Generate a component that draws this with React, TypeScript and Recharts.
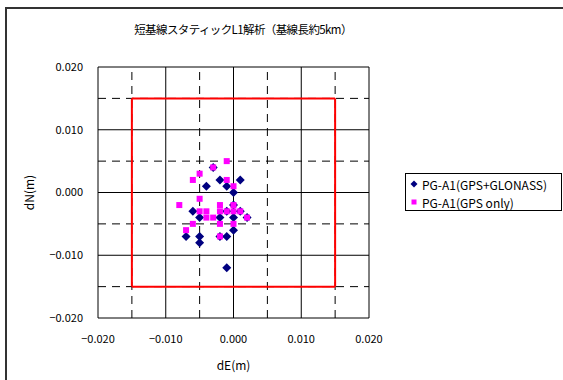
import React from "react";
import {
  ScatterChart,
  Scatter,
  XAxis,
  YAxis,
  ReferenceLine,
  Label,
} from "recharts";

const titleText = "短基線スタティックL1解析（基線長約5km）";
const seriesNames = ["PG-A1(GPS+GLONASS)", "PG-A1(GPS only)"];

// PG-A1 (GPS+GLONASS)
const glonassDE = [
  -0.004, -0.002, -0.001, 0.001, 0.0, 0.0, -0.003, -0.006, -0.001, 0.001, -0.005,
  -0.002, 0.0, 0.002, 0.0, -0.007, -0.005, -0.002, -0.001, -0.005, -0.001,
];
const glonassDN = [
  0.001, 0.002, 0.001, 0.002, 0.0, -0.002, 0.004, -0.003, -0.003, -0.003, -0.004,
  -0.004, -0.004, -0.004, -0.006, -0.007, -0.007, -0.007, -0.007, -0.008, -0.012,
];

// PG-A1 (GPS only)
const gpsOnlyDE = [
  -0.001, -0.003, -0.005, -0.006, -0.001, 0.0, -0.005, -0.008, -0.002, 0.0, -0.005,
  -0.004, -0.002, -0.001, 0.0, 0.001, -0.004, -0.003, 0.002, -0.006, -0.002, 0.0,
  -0.007, -0.002,
];
const gpsOnlyDN = [
  0.005, 0.004, 0.003, 0.002, 0.002, 0.001, -0.001, -0.002, -0.002, -0.002, -0.003,
  -0.003, -0.003, -0.003, -0.003, -0.003, -0.004, -0.004, -0.004, -0.005, -0.005,
  -0.005, -0.006, -0.007,
];

const axisTicks = [-0.02, -0.01, 0.0, 0.01, 0.02];
const minorLines = [-0.015, -0.005, 0.005, 0.015];
const targetBox = [-0.015, 0.015];

const glonassData = glonassDE.map((e, i) => ({ dE: e, dN: glonassDN[i] }));
const gpsOnlyData = gpsOnlyDE.map((e, i) => ({ dE: e, dN: gpsOnlyDN[i] }));

const [b0, b1] = targetBox;
const boxSegments = [
  [{ x: b0, y: b0 }, { x: b1, y: b0 }],
  [{ x: b1, y: b0 }, { x: b1, y: b1 }],
  [{ x: b1, y: b1 }, { x: b0, y: b1 }],
  [{ x: b0, y: b1 }, { x: b0, y: b0 }],
];

const NAVY = "#000080";
const MAGENTA = "#FF00FF";
const FONT = "'Noto Sans CJK JP', 'Liberation Sans', sans-serif";

const fmt = (v: number) => (v < 0 ? "−" : "") + Math.abs(v).toFixed(3);

const Diamond = (props: any) => {
  const { cx, cy } = props;
  const r = 4.5;
  return (
    <polygon
      points={`${cx},${cy - r} ${cx + r},${cy} ${cx},${cy + r} ${cx - r},${cy}`}
      fill={NAVY}
    />
  );
};

const Square = (props: any) => {
  const { cx, cy } = props;
  return <rect x={cx - 3} y={cy - 3} width={6} height={6} fill={MAGENTA} />;
};

const LegendBox = () => (
  <div
    style={{
      position: "absolute",
      left: 405,
      top: 173,
      width: 157,
      height: 38,
      border: "1px solid #000",
      background: "#fff",
      fontFamily: FONT,
      fontSize: 12,
      color: "#000",
      boxSizing: "border-box",
    }}
  >
    <div style={{ display: "flex", alignItems: "center", height: 18, marginTop: 1, whiteSpace: "nowrap" }}>
      <svg width={10} height={10} style={{ marginLeft: 3, marginRight: 3 }}>
        <polygon points="5,1.5 8.5,5 5,8.5 1.5,5" fill={NAVY} />
      </svg>
      <span>{seriesNames[0]}</span>
    </div>
    <div style={{ display: "flex", alignItems: "center", height: 18, whiteSpace: "nowrap" }}>
      <svg width={10} height={10} style={{ marginLeft: 3, marginRight: 3 }}>
        <rect x={2.5} y={2.5} width={5} height={5} fill={MAGENTA} />
      </svg>
      <span>{seriesNames[1]}</span>
    </div>
  </div>
);

export default function App() {
  return (
    <div
      style={{
        position: "absolute",
        left: 0,
        top: 0,
        width: 563,
        height: 380,
        overflow: "hidden",
        background: "#fff",
      }}
    >
      <div
        style={{
          position: "absolute",
          left: 5,
          top: 7,
          width: 700,
          height: 500,
          border: "2px solid #333",
        }}
      />
      <div
        style={{
          position: "absolute",
          left: 0,
          top: 21,
          width: 486,
          textAlign: "center",
          fontFamily: FONT,
          fontSize: 11.5,
          letterSpacing: -0.6,
          color: "#000",
        }}
      >
        {titleText}
      </div>
      <div style={{ position: "absolute", left: 0, top: 0 }}>
        <ScatterChart
          width={563}
          height={380}
          margin={{ top: 67, right: 194, bottom: 12, left: 10 }}
        >
          <XAxis
            type="number"
            dataKey="dE"
            domain={[-0.02, 0.02]}
            ticks={axisTicks}
            tickFormatter={fmt}
            axisLine={false}
            tickLine={false}
            tickSize={0}
            tickMargin={17}
            height={50}
            tick={{ fill: "#000", fontSize: 11, fontFamily: FONT }}
            allowDataOverflow
          >
            <Label
              value="dE(m)"
              position="insideBottom"
              offset={-2}
              style={{ fill: "#000", fontSize: 12, fontFamily: FONT }}
            />
          </XAxis>
          <YAxis
            type="number"
            dataKey="dN"
            domain={[-0.02, 0.02]}
            ticks={axisTicks}
            tickFormatter={fmt}
            axisLine={false}
            tickLine={false}
            tickSize={0}
            tickMargin={15}
            width={88}
            tick={{ fill: "#000", fontSize: 11, fontFamily: FONT }}
            allowDataOverflow
          >
            <Label
              value="dN(m)"
              angle={-90}
              position="insideLeft"
              offset={20}
              style={{ fill: "#000", fontSize: 12, fontFamily: FONT, textAnchor: "middle" }}
            />
          </YAxis>
          {minorLines.map((v) => (
            <ReferenceLine
              key={"mx" + v}
              x={v}
              stroke="#000"
              strokeDasharray="8 6"
              ifOverflow="visible"
            />
          ))}
          {minorLines.map((v) => (
            <ReferenceLine
              key={"my" + v}
              y={v}
              stroke="#000"
              strokeDasharray="8 6"
              ifOverflow="visible"
            />
          ))}
          {axisTicks.map((v) => (
            <ReferenceLine key={"Mx" + v} x={v} stroke="#000" ifOverflow="visible" />
          ))}
          {axisTicks.map((v) => (
            <ReferenceLine key={"My" + v} y={v} stroke="#000" ifOverflow="visible" />
          ))}
          {boxSegments.map((seg, i) => (
            <ReferenceLine
              key={"box" + i}
              segment={seg}
              stroke="#FF0000"
              strokeWidth={2}
              ifOverflow="visible"
            />
          ))}
          <Scatter
            name={seriesNames[0]}
            data={glonassData}
            shape={Diamond}
            isAnimationActive={false}
          />
          <Scatter
            name={seriesNames[1]}
            data={gpsOnlyData}
            shape={Square}
            isAnimationActive={false}
          />
        </ScatterChart>
      </div>
      <LegendBox />
    </div>
  );
}
